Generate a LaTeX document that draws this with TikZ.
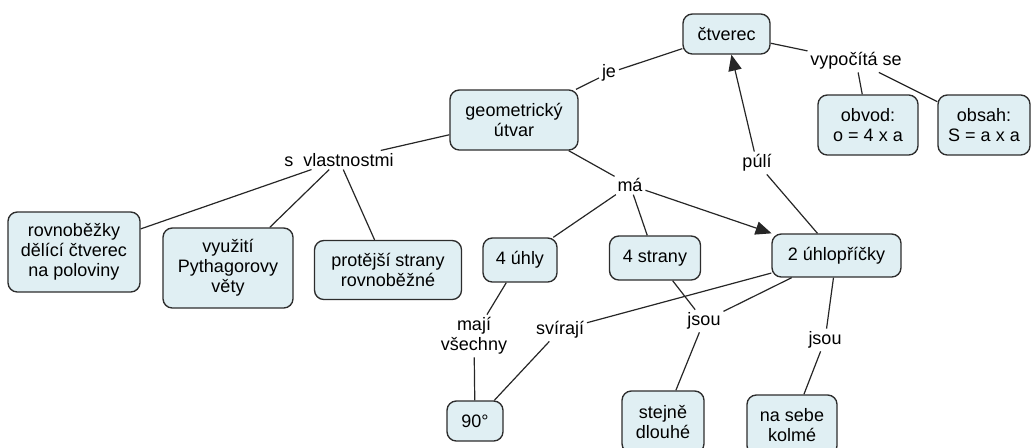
\documentclass[tikz,border=0pt]{standalone}
\usepackage{fontspec}
\setmainfont{Liberation Sans}
\usetikzlibrary{arrows.meta}
\definecolor{boxfill}{RGB}{224,239,243}
\definecolor{boxline}{RGB}{45,45,45}
\begin{document}
\begin{tikzpicture}[x=0.75pt,y=-0.75pt,
  every node/.style={font=\fontsize{13.5}{15}\selectfont, align=center},
  concept/.style 2 args={draw=boxline, line width=1pt, fill=boxfill,
    rounded corners=7pt, inner sep=0pt,
    minimum width=#1*0.75pt, minimum height=#2*0.75pt},
  link/.style={inner sep=2pt},
  conn/.style={draw=black!85, line width=0.9pt},
  arr/.style={conn, -{Triangle[length=12pt,width=10pt]}}]
\useasboundingbox (0,0) rectangle (1035,447);

% concepts
\node[concept={87}{40}]  (ctverec) at (726.5,34)  {čtverec};
\node[concept={128}{60}] (geom)    at (514,120)   {geometrický\\útvar};
\node[concept={100}{60}] (obvod)   at (868,125)   {obvod:\\o = 4 x a};
\node[concept={92}{60}]  (obsah)   at (984,125)   {obsah:\\S = a x a};
\node[concept={132}{80}] (rovn)    at (74,252)    {rovnoběžky\\dělící čtverec\\na poloviny};
\node[concept={130}{80}] (vyuz)    at (228,268)   {využití\\Pythagorovy\\věty};
\node[concept={147}{59}] (prot)    at (388,270)   {protější strany\\rovnoběžné};
\node[concept={74}{44}]  (uhly)    at (520,260)   {4 úhly};
\node[concept={91}{44}]  (strany)  at (655,258)   {4 strany};
\node[concept={129}{43}] (uhlo)    at (836.5,255.5) {2 úhlopříčky};
\node[concept={56}{40}]  (deg)     at (475,421)   {90°};
\node[concept={82}{62}]  (stejne)  at (663,422)   {stejně\\dlouhé};
\node[concept={90}{60}]  (kolme)   at (792,425)   {na sebe\\kolmé};

% linking phrases
\node[link] (je)    at (609,73)  {je};
\node[link] (vyp)   at (856,61)  {vypočítá se};
\node[link] (svl)   at (339,160) {s\ \ vlastnostmi};
\node[link] (ma)    at (630,185) {má};
\node[link] (puli)  at (757,163) {púlí};
\node[link] (maji)  at (474,336) {mají\\všechny};
\node[link] (svir)  at (560,330) {svírají};
\node[link] (jsoua) at (704,321) {jsou};
\node[link] (jsoub) at (825,340) {jsou};

% connections
\draw[conn] (ctverec) -- (je);
\draw[conn] (je) -- (geom);
\draw[conn] (ctverec) -- (vyp);
\draw[conn] (vyp) -- (obvod);
\draw[conn] (vyp) -- (obsah);
\draw[conn] (geom) -- (svl);
\draw[conn] (svl) -- (rovn);
\draw[conn] (svl) -- (vyuz);
\draw[conn] (svl) -- (prot);
\draw[conn] (geom) -- (ma);
\draw[conn] (ma) -- (uhly);
\draw[conn] (ma) -- (strany);
\draw[arr]  (ma) -- (uhlo);
\draw[conn] (uhlo) -- (puli);
\draw[arr]  (puli) -- (ctverec);
\draw[conn] (uhly) -- (maji);
\draw[conn] (maji) -- (deg);
\draw[conn] (uhlo) -- (svir);
\draw[conn] (svir) -- (deg);
\draw[conn] (strany) -- (jsoua);
\draw[conn] (uhlo) -- (jsoua);
\draw[conn] (jsoua) -- (stejne);
\draw[conn] (uhlo) -- (jsoub);
\draw[conn] (jsoub) -- (kolme);
\end{tikzpicture}
\end{document}
